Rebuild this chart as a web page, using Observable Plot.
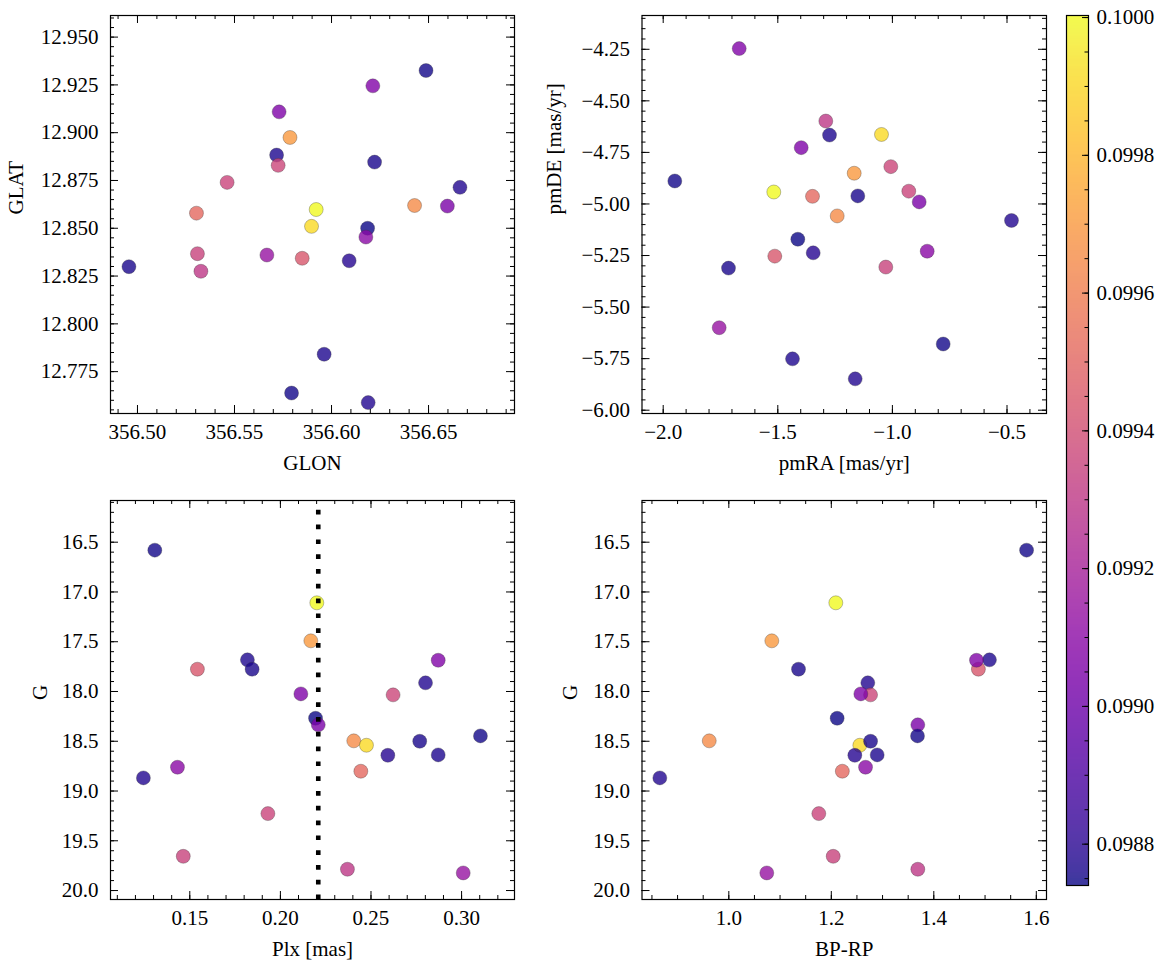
<!DOCTYPE html>
<html>
<head>
<meta charset="utf-8">
<script src="https://cdn.jsdelivr.net/npm/d3@7"></script>
<script src="https://cdn.jsdelivr.net/npm/@observablehq/plot@0.6"></script>
<style>
  html, body { margin: 0; padding: 0; background: #ffffff; }
  #chart { position: relative; width: 1166px; height: 965px; background: #ffffff; }
  #chart svg { position: absolute; }
</style>
</head>
<body>
<div id="chart"></div>
<script>
// ---- data (one entry per star) ----
const glon = [356.6487, 356.5921, 356.5786, 356.5717, 356.6222, 356.5849, 356.6213, 356.6662, 356.5725, 356.5730, 356.6186, 356.6597, 356.6428, 356.5897, 356.6091, 356.4956, 356.5962, 356.5794, 356.5304, 356.6177, 356.6189, 356.5462, 356.5309, 356.5327, 356.5667];
const glat = [12.9325, 12.8598, 12.8975, 12.8883, 12.8846, 12.8343, 12.9245, 12.8714, 12.8829, 12.9109, 12.8500, 12.8616, 12.8619, 12.8510, 12.8330, 12.8299, 12.7841, 12.7638, 12.8579, 12.8454, 12.7588, 12.8740, 12.8367, 12.8275, 12.8360];
const pmra = [-1.9494, -1.5175, -1.1667, -1.2744, -1.1510, -1.5131, -1.6684, -0.4804, -1.0070, -1.3979, -1.4127, -0.8831, -1.2408, -1.0476, -1.3456, -1.7151, -1.4359, -0.7784, -1.3486, -0.8482, -1.1623, -0.9285, -1.0288, -1.2906, -1.7557];
const pmde = [-4.8886, -4.942, -4.851, -4.666, -4.961, -5.253, -4.2466, -5.080, -4.819, -4.727, -5.171, -4.990, -5.058, -4.663, -5.237, -5.311, -5.751, -5.679, -4.963, -5.229, -5.848, -4.938, -5.306, -4.598, -5.600];
const plx  = [0.1307, 0.2201, 0.2168, 0.1818, 0.1844, 0.1542, 0.2871, 0.2801, 0.2622, 0.2113, 0.2194, 0.2209, 0.2405, 0.2475, 0.2593, 0.2769, 0.2871, 0.3104, 0.2444, 0.1432, 0.1244, 0.1931, 0.1464, 0.2370, 0.3009];
const gmag = [16.58, 17.109, 17.491, 17.682, 17.776, 17.776, 17.686, 17.913, 18.034, 18.024, 18.269, 18.335, 18.496, 18.540, 18.641, 18.500, 18.637, 18.446, 18.801, 18.761, 18.868, 19.227, 19.656, 19.786, 19.823];
const bprp = [1.581, 1.2088, 1.0839, 1.5086, 1.136, 1.487, 1.4833, 1.2712, 1.2766, 1.2576, 1.2114, 1.3688, 0.9618, 1.2557, 1.2459, 1.2766, 1.2895, 1.3682, 1.2215, 1.2668, 0.8654, 1.1756, 1.2037, 1.3688, 1.0741];
const val  = [0.09875, 0.10000, 0.09970, 0.09877, 0.09876, 0.09944, 0.09907, 0.09878, 0.09937, 0.09906, 0.09874, 0.09905, 0.09965, 0.09991, 0.09879, 0.09876, 0.09877, 0.09875, 0.09951, 0.09910, 0.09878, 0.09936, 0.09935, 0.09930, 0.09914];
const plxCut = [0.2209];

// ---- tick labels ----
const glonTicks = [356.50, 356.55, 356.60, 356.65];
const glatTicks = [12.775, 12.800, 12.825, 12.850, 12.875, 12.900, 12.925, 12.950];
const pmraTicks = [-2.0, -1.5, -1.0, -0.5];
const pmdeTicks = [-6.00, -5.75, -5.50, -5.25, -5.00, -4.75, -4.50, -4.25];
const plxTicks  = [0.15, 0.20, 0.25, 0.30];
const gTicks    = [16.5, 17.0, 17.5, 18.0, 18.5, 19.0, 19.5, 20.0];
const bprpTicks = [1.0, 1.2, 1.4, 1.6];
const cbarTicks = [0.0988, 0.0990, 0.0992, 0.0994, 0.0996, 0.0998, 0.1000];

const stars = glon.map((_, i) => ({
  glon: glon[i], glat: glat[i], pmra: pmra[i], pmde: pmde[i],
  plx: plx[i], g: gmag[i], bprp: bprp[i], val: val[i]
}));

const colorDomain = [0.09874, 0.100003];
const FONT = "Liberation Serif, Times New Roman, serif";
const FS = 21;
const fmt = n => d => (d < 0 ? "\u2212" : "") + Math.abs(d).toFixed(n);

function minor(domain, step) {
  const [a, b] = d3.extent(domain);
  const out = [];
  for (let k = Math.ceil(a / step - 1e-9); k * step <= b + 1e-12; k++) out.push(+(k * step).toFixed(10));
  return out;
}
const within = (ticks, domain) => { const [a, b] = d3.extent(domain); return ticks.filter(t => t >= a - 1e-12 && t <= b + 1e-12); };

function panel(o) {
  const fw = o.svgW - o.ml - o.mr, fh = o.svgH - o.mt - o.mb;
  const MAJ = 8, MIN = 4;
  const xMaj = within(o.xTicks, o.xDomain), yMaj = within(o.yTicks, o.yDomain);
  const xMin = minor(o.xDomain, o.xMinor), yMin = minor(o.yDomain, o.yMinor);
  const tk = {stroke: "black", strokeWidth: 1};
  const marks = [
    Plot.dot(stars, {x: o.xKey, y: o.yKey, fill: "val", r: 7, fillOpacity: 0.8,
      stroke: "#333", strokeOpacity: 0.7, strokeWidth: 0.45}),
    ...(o.extra || []),
    Plot.frame({stroke: "black", strokeWidth: 1.2}),
    Plot.tickX(xMaj, {x: d => d, insetTop: fh - MAJ, ...tk}),
    Plot.tickX(xMaj, {x: d => d, insetBottom: fh - MAJ, ...tk}),
    Plot.tickX(xMin, {x: d => d, insetTop: fh - MIN, ...tk}),
    Plot.tickX(xMin, {x: d => d, insetBottom: fh - MIN, ...tk}),
    Plot.tickY(yMaj, {y: d => d, insetRight: fw - MAJ, ...tk}),
    Plot.tickY(yMaj, {y: d => d, insetLeft: fw - MAJ, ...tk}),
    Plot.tickY(yMin, {y: d => d, insetRight: fw - MIN, ...tk}),
    Plot.tickY(yMin, {y: d => d, insetLeft: fw - MIN, ...tk}),
    Plot.axisX(xMaj, {anchor: "bottom", tickSize: 0, tickPadding: 11, tickFormat: o.xFmt, label: null, fontSize: FS}),
    Plot.axisY(yMaj, {anchor: "left", tickSize: 0, tickPadding: 12, tickFormat: o.yFmt, label: null, fontSize: FS}),
    Plot.text([o.xLabel], {frameAnchor: "bottom", dy: 50, lineAnchor: "middle", fontSize: FS}),
    Plot.text([o.yLabel], {frameAnchor: "left", dx: o.yLabelDx, rotate: -90, lineAnchor: "middle", fontSize: FS})
  ];
  const svg = Plot.plot({
    width: o.svgW, height: o.svgH,
    marginLeft: o.ml, marginRight: o.mr, marginTop: o.mt, marginBottom: o.mb,
    style: {fontFamily: FONT, fontSize: FS + "px", background: "transparent", color: "black"},
    x: {domain: o.xDomain, axis: null},
    y: {domain: o.yDomain, axis: null},
    color: {type: "linear", scheme: "plasma", domain: colorDomain},
    marks
  });
  svg.style.left = o.left + "px";
  svg.style.top = o.top + "px";
  return svg;
}

const chart = document.getElementById("chart");

chart.appendChild(panel({
  left: 0, top: 0, svgW: 540, svgH: 490, ml: 110, mr: 26, mt: 15, mb: 77,
  xKey: "glon", yKey: "glat",
  xDomain: [356.4861, 356.6943], yDomain: [12.7531, 12.9613],
  xTicks: glonTicks, yTicks: glatTicks, xMinor: 0.01, yMinor: 0.005,
  xFmt: fmt(2), yFmt: fmt(3), xLabel: "GLON", yLabel: "GLAT", yLabelDx: -94
}));

chart.appendChild(panel({
  left: 540, top: 0, svgW: 516, svgH: 490, ml: 101.5, mr: 10, mt: 15, mb: 77,
  xKey: "pmra", yKey: "pmde",
  xDomain: [-2.0925, -0.3277], yDomain: [-6.016, -4.0862],
  xTicks: pmraTicks, yTicks: pmdeTicks, xMinor: 0.1, yMinor: 0.05,
  xFmt: fmt(1), yFmt: fmt(2), xLabel: "pmRA [mas/yr]", yLabel: "pmDE [mas/yr]", yLabelDx: -88
}));

chart.appendChild(panel({
  left: 0, top: 480, svgW: 540, svgH: 485, ml: 110, mr: 26, mt: 20, mb: 66,
  xKey: "plx", yKey: "g",
  xDomain: [0.10624, 0.3292], yDomain: [20.09, 16.081],
  xTicks: plxTicks, yTicks: gTicks, xMinor: 0.01, yMinor: 0.1,
  xFmt: fmt(2), yFmt: fmt(1), xLabel: "Plx [mas]", yLabel: "G", yLabelDx: -70,
  extra: [Plot.ruleX(plxCut, {x: d => d, stroke: "black", strokeWidth: 4.6, strokeDasharray: "4.7 10.1", strokeDashoffset: 5})]
}));

chart.appendChild(panel({
  left: 540, top: 480, svgW: 516, svgH: 485, ml: 101.5, mr: 10, mt: 20, mb: 66,
  xKey: "bprp", yKey: "g",
  xDomain: [0.8306, 1.6199], yDomain: [20.09, 16.081],
  xTicks: bprpTicks, yTicks: gTicks, xMinor: 0.05, yMinor: 0.1,
  xFmt: fmt(1), yFmt: fmt(1), xLabel: "BP-RP", yLabel: "G", yLabelDx: -71.5
}));

// ---- colour bar ----
(function () {
  const svgW = 110, svgH = 900, ml = 10, mr = 78, mt = 15, mb = 15;
  const fw = svgW - ml - mr;
  const cb = Plot.plot({
    width: svgW, height: svgH, marginLeft: ml, marginRight: mr, marginTop: mt, marginBottom: mb,
    style: {fontFamily: FONT, fontSize: FS + "px", background: "transparent", color: "black"},
    x: {domain: [0, 1], axis: null},
    y: {domain: colorDomain, axis: null},
    color: {type: "linear", scheme: "plasma", domain: colorDomain},
    marks: [
      Plot.raster({x1: 0, x2: 1, y1: colorDomain[0], y2: colorDomain[1], width: 2, height: 600,
        fill: (x, y) => y, opacity: 0.8, imageRendering: "auto"}),
      Plot.frame({stroke: "black", strokeWidth: 1.2}),
      Plot.tickY(within(cbarTicks, colorDomain), {y: d => d, insetLeft: fw - 6, stroke: "black"}),
      Plot.tickY(minor(colorDomain, 0.00005), {y: d => d, insetLeft: fw - 3.5, stroke: "black"}),
      Plot.axisY(within(cbarTicks, colorDomain), {anchor: "right", tickSize: 0, tickPadding: 8,
        tickFormat: d => d.toFixed(4), label: null, fontSize: FS})
    ]
  });
  cb.style.left = "1056px";
  cb.style.top = "0px";
  chart.appendChild(cb);
})();
</script>
</body>
</html>
